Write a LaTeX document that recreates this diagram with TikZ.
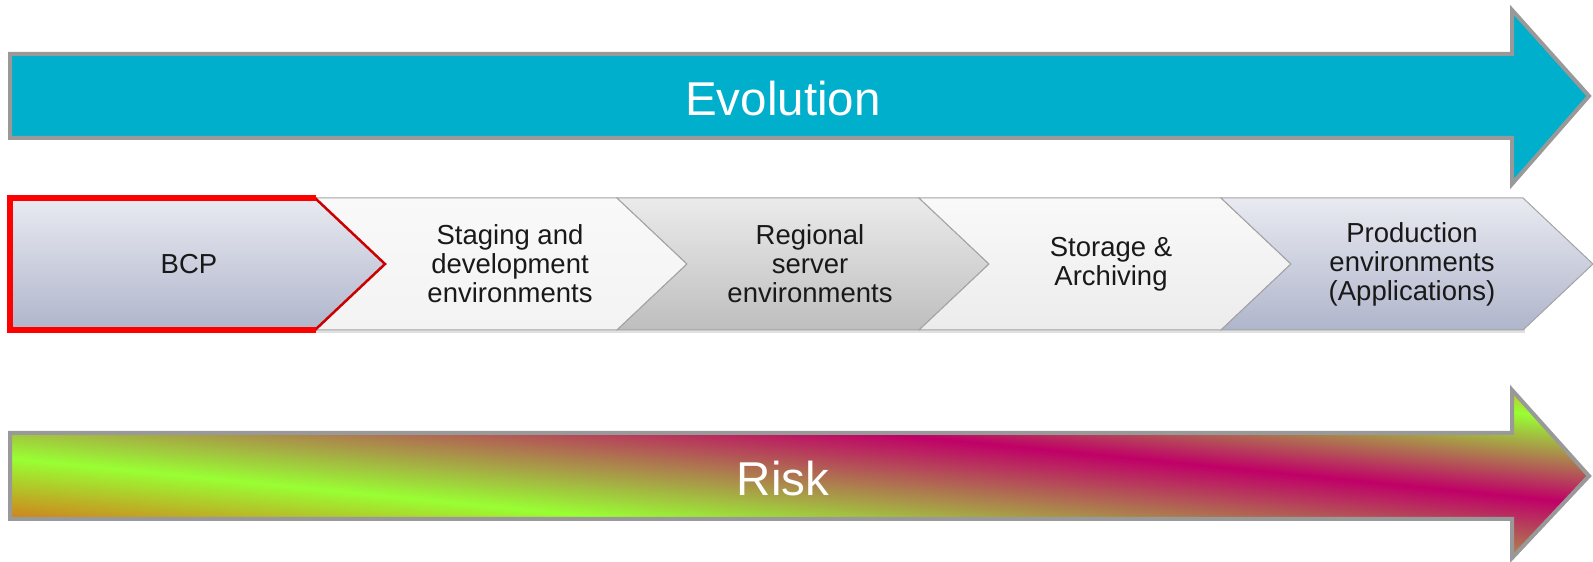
\documentclass[tikz,border=0pt]{standalone}
\usepackage{fontspec}
\setmainfont{Liberation Sans}
\usepackage{tikz}
\usetikzlibrary{calc}
\definecolor{evoblue}{HTML}{00AFCB}
\definecolor{outline}{HTML}{999999}
\definecolor{edge}{HTML}{A3A3A3}
\definecolor{lavtop}{HTML}{E9EAF1}
\definecolor{lavbot}{HTML}{AFB5CB}
\definecolor{greytop}{HTML}{EBEBEB}
\definecolor{greybot}{HTML}{BEBEBE}
\definecolor{whitebot}{HTML}{F3F3F3}
\definecolor{offtop}{HTML}{F9F9F9}
\definecolor{offbot}{HTML}{ECECEC}
\definecolor{riskorange}{HTML}{D8701A}
\definecolor{riskgreen}{HTML}{99FF33}
\definecolor{riskmagenta}{HTML}{C00068}
\definecolor{riskolive}{HTML}{C8B030}
\pgfdeclareverticalshading{riskshade}{100bp}{color(0bp)=(riskorange); color(26bp)=(riskorange); color(37bp)=(riskgreen); color(55bp)=(riskmagenta); color(68.5bp)=(riskgreen); color(73bp)=(riskolive); color(100bp)=(riskolive)}
\tikzset{
  arrowline/.style={draw=outline, line width=4pt, line join=miter},
  bigtext/.style={text=white, font=\fontsize{47.5}{50}\selectfont},
  chevtext/.style={text=black!90, align=center, font=\fontsize{27.5}{29}\selectfont},
  chevline/.style={draw=edge, line width=1pt, line join=miter},
}

\begin{document}
\begin{tikzpicture}[x=1pt, y=1pt]
\useasboundingbox (0,0) rectangle (1593,562);

% evolution arrow
\draw[arrowline, fill=evoblue] (10,508) -- (1512,508) -- (1512,552) -- (1589,466) -- (1512,378) -- (1512,424) -- (10,424) -- cycle;
\node[bigtext] (evolution) at (783,463) {Evolution};

% chevrons
\fill[black!12] (12,229) -- (1525,229) -- (1525,233) -- (12,233) -- cycle;
\draw[chevline, top color=offtop, bottom color=whitebot] (315,364) -- (617,364) -- (687,298) -- (617,232) -- (315,232) -- (385,298) -- cycle;
\draw[chevline, top color=greytop, bottom color=greybot] (617,364) -- (919,364) -- (989,298) -- (919,232) -- (617,232) -- (687,298) -- cycle;
\draw[chevline, top color=offtop, bottom color=offbot] (919,364) -- (1221,364) -- (1291,298) -- (1221,232) -- (919,232) -- (989,298) -- cycle;
\draw[chevline, top color=lavtop, bottom color=lavbot] (1221,364) -- (1523,364) -- (1593,298) -- (1523,232) -- (1221,232) -- (1291,298) -- cycle;
\draw[draw=red!80!black, line width=2.5pt, top color=lavtop, bottom color=lavbot] (10,364) -- (315,364) -- (385,298) -- (315,232) -- (10,232) -- cycle;
\draw[red, line width=6pt, line join=miter] (316,364) -- (10,364) -- (10,232) -- (316,232);
\node[chevtext] (bcp) at (189,298) {BCP};
\node[chevtext] (staging) at (510,298) {Staging and\\development\\environments};
\node[chevtext] (regional) at (810,298) {Regional\\server\\environments};
\node[chevtext] (storage) at (1111,298) {Storage \&\\Archiving};
\node[chevtext] (production) at (1412,298) {Production\\environments\\(Applications)};

% risk arrow
\begin{scope}
\clip (10,129) -- (1512,129) -- (1512,172) -- (1589,86) -- (1512,4) -- (1512,43) -- (10,43) -- cycle;
\begin{scope}[transform canvas={rotate=-5.71}]
\shade[shading=riskshade] (-100,30) rectangle (1700,340);
\end{scope}
\end{scope}
\draw[arrowline] (10,129) -- (1512,129) -- (1512,172) -- (1589,86) -- (1512,4) -- (1512,43) -- (10,43) -- cycle;
\node[bigtext] (risk) at (783,83) {Risk};
\end{tikzpicture}
\end{document}
